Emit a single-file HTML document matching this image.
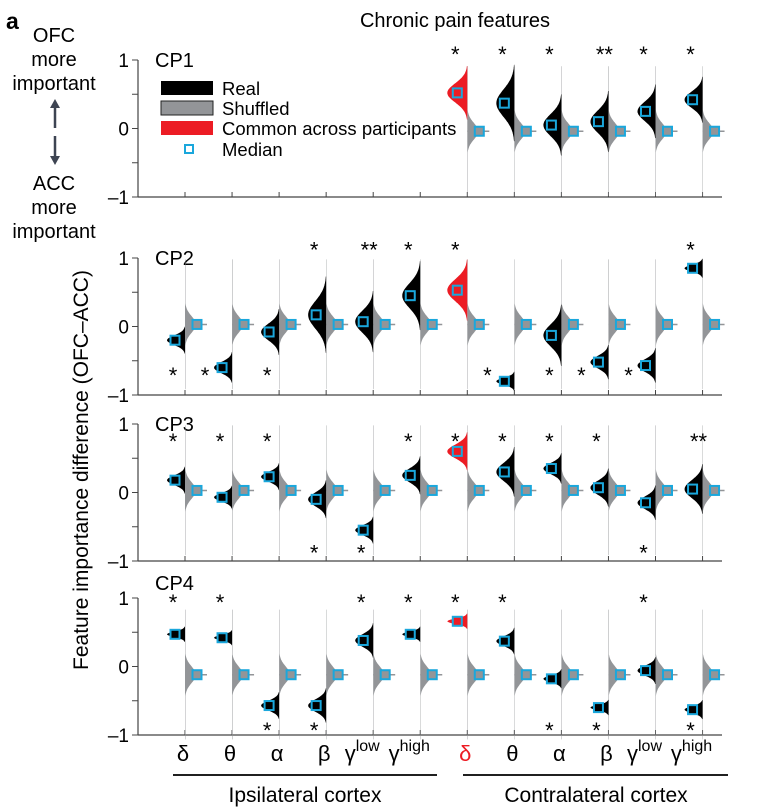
<!DOCTYPE html>
<html><head><meta charset="utf-8"><style>
body{margin:0;background:#fff}
svg{display:block;font-family:"Liberation Sans",sans-serif}
</style></head><body>
<svg id="c" width="758" height="809" viewBox="0 0 758 809"></svg>
<script>
const features=["δ","θ","α","β","γ","γ","δ","θ","α","β","γ","γ"];
const featureSup=["","","","","low","high","","","","","low","high"];
const panels=["CP1","CP2","CP3","CP4"];
const realCP1=[null,null,null,null,null,null,0.52,0.37,0.05,0.10,0.25,0.42];
const realCP2=[-0.20,-0.60,-0.08,0.17,0.07,0.45,0.53,-0.80,-0.13,-0.52,-0.57,0.85];
const realCP3=[0.18,-0.07,0.23,-0.10,-0.55,0.25,0.60,0.30,0.35,0.07,-0.15,0.05];
const realCP4=[0.47,0.42,-0.57,-0.57,0.38,0.47,0.66,0.37,-0.18,-0.60,-0.06,-0.63];
const spreadCP1=[0,0,0,0,0,0,0.14,0.2,0.16,0.16,0.14,0.12];
const spreadCP2=[0.07,0.08,0.12,0.2,0.16,0.18,0.16,0.05,0.16,0.09,0.09,0.05];
const spreadCP3=[0.07,0.06,0.07,0.1,0.07,0.1,0.1,0.13,0.08,0.1,0.09,0.13];
const spreadCP4=[0.04,0.04,0.07,0.09,0.09,0.04,0.04,0.07,0.05,0.04,0.07,0.05];
const shufCP=[-0.04,0.03,0.03,-0.12];
const starsCP1=["","","","","","","*","*","*","**","*","*"];
const starsCP2=["*","*","*","*","**","*","*","*","*","*","*","*"];
const starsCP3=["*","*","*","*","*","*","*","*","*","*","*","**"];
const starsCP4=["*","*","*","*","*","*","*","*","*","*","*","*"];
const starSideCP1=[1,1,1,1,1,1,1,1,1,1,1,1];
const starSideCP2=[-1,-1,-1,1,1,1,1,-1,-1,-1,-1,1];
const starSideCP3=[1,1,1,-1,-1,1,1,1,1,1,-1,1];
const starSideCP4=[1,1,-1,-1,1,1,1,1,-1,-1,1,-1];
const yTicks=[1,0,-1];
const realAll=[realCP1,realCP2,realCP3,realCP4];
const spreadAll=[spreadCP1,spreadCP2,spreadCP3,spreadCP4];
const starsAll=[starsCP1,starsCP2,starsCP3,starsCP4];
const sideAll=[starSideCP1,starSideCP2,starSideCP3,starSideCP4];

const svg=document.getElementById('c');
const NS="http://www.w3.org/2000/svg";
function mk(tag,attrs,parent){const e=document.createElementNS(NS,tag);for(const k in attrs)e.setAttribute(k,attrs[k]);(parent||svg).appendChild(e);return e;}
const panelTop=[60,258,424,598];
const labelY=[67,265,431,590];
const unit=68.5;
const axX=138, axEnd=722;
function xCol(i){return 185+47.05*i;}
function yVal(p,v){return panelTop[p]+(1-v)*unit;}
const starAbove=[1.12,1.15,0.78,0.97];
const starBelow=[-0.7,-0.68,-0.85,-0.9];

let t=mk('text',{x:6,y:29,'font-size':23,'font-weight':'bold'});t.textContent='a';

t=mk('text',{x:455,y:27,'font-size':20,'text-anchor':'middle'});t.textContent='Chronic pain features';

[["OFC",42],["more",66],["important",90],["ACC",190],["more",214],["important",238]].forEach(([s,y])=>{
 const e=mk('text',{x:54,y:y,'font-size':20,'text-anchor':'middle'});e.textContent=s;
 
});
const arr=mk('g',{});

mk('line',{x1:55,y1:106,x2:55,y2:128,stroke:'#3d4452','stroke-width':2.5},arr);
mk('polygon',{points:'50,108 55,99 60,108',fill:'#3d4452'},arr);
mk('line',{x1:55,y1:136,x2:55,y2:158,stroke:'#3d4452','stroke-width':2.5},arr);
mk('polygon',{points:'50,156 55,165 60,156',fill:'#3d4452'},arr);
t=mk('text',{transform:'translate(88,470) rotate(-90)','font-size':21,'text-anchor':'middle'});t.textContent='Feature importance difference (OFC–ACC)';


function halfViolin(p,cx,m,s,w,dir,fill,tail,minW){
 let pts=[];const lo=m-tail,hi=m+tail;
 for(let v=hi;v>=lo;v-=0.01){
  let g=Math.exp(-(v-m)*(v-m)/(2*s*s));
  let wd=Math.max(w*g,minW);
  pts.push((cx+dir*wd).toFixed(1)+','+yVal(p,v).toFixed(1));
 }
 pts.push(cx+','+yVal(p,lo).toFixed(1));pts.unshift(cx+','+yVal(p,hi).toFixed(1));
 return mk('polygon',{points:pts.join(' '),fill:fill});
}
function medianSq(x,y,fill){
 const r=mk('rect',{x:x-4.5,y:y-4.5,width:9,height:9,fill:fill,stroke:'#1aa7dc','stroke-width':2});
 
}

panels.forEach((name,p)=>{
 const g=mk('g',{});
 
 let e=mk('text',{x:155,y:labelY[p],'font-size':20},g);e.textContent=name;
 
 mk('line',{x1:axX,y1:yVal(p,1),x2:axX,y2:yVal(p,-1),stroke:'#444','stroke-width':1.2},g);
 mk('line',{x1:axX,y1:yVal(p,-1),x2:axEnd,y2:yVal(p,-1),stroke:'#444','stroke-width':1.2},g);
 [1,0.5,0,-0.5,-1].forEach(v=>mk('line',{x1:axX-6,y1:yVal(p,v),x2:axX,y2:yVal(p,v),stroke:'#444'},g));
 yTicks.forEach(v=>{const tt=mk('text',{x:axX-9,y:yVal(p,v)+7,'font-size':19,'text-anchor':'end'},g);tt.textContent=v<0?'–1':String(v);
  });
 for(let i=0;i<12;i++){
  const cx=xCol(i);
  mk('line',{x1:cx,y1:yVal(p,-1),x2:cx,y2:yVal(p,-1)-5,stroke:'#444'},g);
  const m=realAll[p][i];
  if(m===null) continue;
  const sm=shufCP[p];
  const sv=halfViolin(p,cx,sm,0.12,11,1,'#939598',0.95,0.4);
  
  mk('line',{x1:cx,y1:yVal(p,sm),x2:cx+22,y2:yVal(p,sm),stroke:'#939598','stroke-width':1.5},g);
  medianSq(cx+12,yVal(p,sm),'#939598');
  const red=(i===6);
  const rv=halfViolin(p,cx,m,spreadAll[p][i],red?20:18,-1,red?'#ec1c24':'#000',spreadAll[p][i]*2.8,0.3);
  
  medianSq(cx-10,yVal(p,m),red?'#ec1c24':'#000');
  const st=starsAll[p][i];
  if(st){
   const above=sideAll[p][i]>0;
   const sy=yVal(p,above?starAbove[p]:starBelow[p])+10;
   let dx=st.length>1?-4:-12;
   if(!above&&p===1&&m<-0.45) dx=-27;
   const s=mk('text',{x:cx+dx,y:sy,'font-size':22,'text-anchor':'middle'});s.textContent=st;
   
  }
 }
});
const lg=mk('g',{});

[["Real",'#000'],["Shuffled",'#939598'],["Common across participants",'#ec1c24']].forEach(([s,c],k)=>{
 const y=81+k*20;
 mk('rect',{x:161,y:y,width:52,height:14,fill:c,stroke:k===1?'#222':'none'},lg);
 const e=mk('text',{x:222,y:y+14,'font-size':18.5},lg);e.textContent=s;
 
});
mk('rect',{x:185,y:145,width:8,height:8,fill:'none',stroke:'#1aa7dc','stroke-width':2},lg);
let le=mk('text',{x:222,y:156,'font-size':18.5},lg);le.textContent='Median';

features.forEach((f,i)=>{
 const e=mk('text',{x:xCol(i)-(featureSup[i]?11:2),y:761,'font-size':22,'text-anchor':'middle',fill:i===6?'#ec1c24':'#000'});
 e.textContent=f;
 
 if(featureSup[i]){const ts=mk('tspan',{dy:-10,'font-size':16},e);ts.textContent=featureSup[i];}
});
mk('line',{x1:173,y1:775,x2:437,y2:775,stroke:'#000','stroke-width':1.8});
mk('line',{x1:463,y1:775,x2:728,y2:775,stroke:'#000','stroke-width':1.8});
t=mk('text',{x:305,y:802,'font-size':21,'text-anchor':'middle'});t.textContent='Ipsilateral cortex';

t=mk('text',{x:596,y:802,'font-size':21,'text-anchor':'middle'});t.textContent='Contralateral cortex';

</script>
</body></html>
